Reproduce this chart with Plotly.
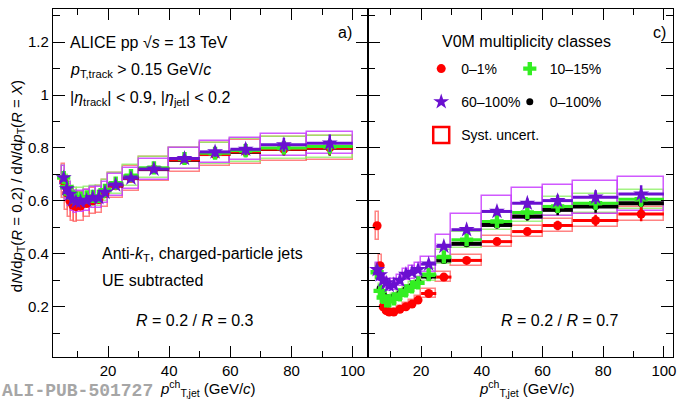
import plotly.graph_objects as go

# ---------------- data ----------------
bin_edges = [5, 6, 7, 8, 9, 10, 12, 14, 16, 18, 20, 25, 30, 40, 50, 60, 70, 85, 100]

# panel a) R = 0.2 / R = 0.3
a_red    = [0.675, 0.63, 0.60, 0.583, 0.578, 0.58, 0.59, 0.60, 0.605, 0.628, 0.657, 0.685, 0.72, 0.755, 0.775, 0.785, 0.795, 0.80]
a_green  = [0.688, 0.652, 0.628, 0.615, 0.61, 0.61, 0.615, 0.617, 0.617, 0.64, 0.667, 0.695, 0.725, 0.76, 0.78, 0.79, 0.80, 0.805]
a_purple = [0.687, 0.645, 0.625, 0.605, 0.597, 0.597, 0.602, 0.612, 0.612, 0.632, 0.66, 0.686, 0.72, 0.76, 0.785, 0.795, 0.812, 0.818]
a_black  = [0.68, 0.64, 0.617, 0.60, 0.595, 0.596, 0.60, 0.607, 0.608, 0.628, 0.658, 0.686, 0.72, 0.755, 0.777, 0.785, 0.796, 0.801]
a_stat   = [0.012, 0.009, 0.008, 0.007, 0.006, 0.006, 0.006, 0.007, 0.008, 0.008, 0.009, 0.01, 0.011, 0.014, 0.017, 0.02, 0.024, 0.03]
a_syst_red    = [0.065, 0.065, 0.062, 0.06, 0.058, 0.055, 0.052, 0.05, 0.05, 0.05, 0.048, 0.046, 0.045, 0.045, 0.045, 0.045, 0.045, 0.045]
a_syst_green  = [0.045, 0.045, 0.042, 0.04, 0.04, 0.038, 0.038, 0.038, 0.038, 0.04, 0.04, 0.04, 0.04, 0.04, 0.04, 0.042, 0.042, 0.042]
a_syst_purple = [0.045, 0.045, 0.045, 0.045, 0.042, 0.04, 0.04, 0.04, 0.04, 0.04, 0.04, 0.04, 0.04, 0.04, 0.042, 0.042, 0.042, 0.042]

# panel c) R = 0.2 / R = 0.7
c_red    = [0.506, 0.355, 0.20, 0.185, 0.18, 0.18, 0.19, 0.20, 0.21, 0.225, 0.25, 0.312, 0.375, 0.446, 0.484, 0.507, 0.526, 0.55]
c_green  = [0.33, 0.26, 0.235, 0.222, 0.222, 0.23, 0.245, 0.26, 0.275, 0.29, 0.321, 0.388, 0.453, 0.522, 0.556, 0.579, 0.591, 0.606]
c_purple = [0.34, 0.32, 0.30, 0.29, 0.28, 0.283, 0.30, 0.322, 0.33, 0.34, 0.361, 0.428, 0.491, 0.56, 0.591, 0.601, 0.614, 0.626]
c_black  = [0.34, 0.27, 0.25, 0.236, 0.232, 0.238, 0.25, 0.265, 0.278, 0.293, 0.314, 0.375, 0.438, 0.509, 0.541, 0.566, 0.579, 0.591]
c_stat   = [0.012, 0.008, 0.006, 0.005, 0.005, 0.005, 0.005, 0.005, 0.006, 0.006, 0.007, 0.008, 0.01, 0.013, 0.016, 0.02, 0.024, 0.03]
c_syst_red    = [0.053, 0.04, 0.015, 0.013, 0.012, 0.012, 0.012, 0.013, 0.014, 0.015, 0.016, 0.018, 0.02, 0.022, 0.022, 0.024, 0.025, 0.025]
c_syst_green  = [0.03, 0.025, 0.02, 0.018, 0.018, 0.018, 0.018, 0.02, 0.02, 0.02, 0.022, 0.026, 0.03, 0.032, 0.034, 0.035, 0.036, 0.036]
c_syst_purple = [0.025, 0.022, 0.02, 0.02, 0.02, 0.02, 0.02, 0.022, 0.024, 0.026, 0.028, 0.044, 0.06, 0.057, 0.058, 0.06, 0.062, 0.064]

class_labels = ["0–1%", "10–15%", "60–100%", "0–100%"]
x_ticks = [20, 40, 60, 80, 100]
y_ticks = [0.2, 0.4, 0.6, 0.8, 1.0, 1.2]

# ---------------- derived ----------------
centers = [(lo + hi) / 2 for lo, hi in zip(bin_edges[:-1], bin_edges[1:])]
widths = [hi - lo for lo, hi in zip(bin_edges[:-1], bin_edges[1:])]
halfw = [w / 2 for w in widths]

RED, GREEN, PURPLE, BLACK = "#ff0000", "#33ee22", "#6a10d0", "#000000"
RED_BOX, GREEN_BOX, PURPLE_BOX = "rgba(255,90,90,0.75)", "rgba(140,240,100,0.8)", "rgba(200,60,255,0.85)"

FONT = "Liberation Sans, Arial, sans-serif"
W, H = 679, 401
ML, MR, MT, MB = 53, 3, 9, 44
PW, PH = W - ML - MR, H - MT - MB
split = (369.5 - ML) / PW


def px(xp):
    return (xp - ML) / PW


def py(yp):
    return (H - MB - yp) / PH


fig = go.Figure()


def add_panel(xa, ya, vals, syst, stat, show_legend):
    red, green, purple, black = vals
    sred, sgreen, spurple = syst
    for v, s, col in ((red, sred, RED_BOX), (green, sgreen, GREEN_BOX), (purple, spurple, PURPLE_BOX)):
        fig.add_trace(go.Bar(
            x=centers, y=[2 * e for e in s], base=[a - e for a, e in zip(v, s)], width=widths,
            marker=dict(color="rgba(0,0,0,0)", line=dict(color=col, width=1.5)),
            xaxis=xa, yaxis=ya, showlegend=False, hoverinfo="skip"))
    specs = [
        (black, BLACK, "circle", 7, 4.0, class_labels[3], "legend2", 1.0, 2),
        (red, RED, "circle", 9, 3.0, class_labels[0], "legend", 0.9, 1),
        (green, GREEN, "cross", 11, 3.0, class_labels[1], "legend2", 1.0, 1),
        (purple, PURPLE, "star", 12, 3.0, class_labels[2], "legend", 1.1, 2),
    ]
    for v, col, sym, size, thick, name, leg, sf, rank in specs:
        fig.add_trace(go.Scatter(
            x=centers, y=v, mode="markers", name=name,
            marker=dict(symbol=sym, size=size, color=col, line=dict(width=0)),
            error_x=dict(type="data", array=halfw, thickness=thick, width=0, color=col),
            error_y=dict(type="data", array=[e * sf for e in stat], thickness=2.5, width=0, color=col),
            xaxis=xa, yaxis=ya, showlegend=show_legend, legend=leg, legendgroup=name,
            legendrank=rank))


add_panel("x", "y", (a_red, a_green, a_purple, a_black),
          (a_syst_red, a_syst_green, a_syst_purple), a_stat, False)
add_panel("x2", "y2", (c_red, c_green, c_purple, c_black),
          (c_syst_red, c_syst_green, c_syst_purple), c_stat, True)

# legend entry for systematic boxes
fig.add_trace(go.Scatter(
    x=[None], y=[None], mode="markers", name="Syst. uncert.",
    marker=dict(symbol="square-open", size=16, color=RED, line=dict(width=2.5, color=RED)),
    xaxis="x2", yaxis="y2", legend="legend", legendgroup="syst", legendrank=3))

axis_common = dict(
    showline=True, linecolor="black", linewidth=1.3, mirror="ticks",
    ticks="inside", tickcolor="black", tickwidth=1.2, showgrid=False, zeroline=False,
    tickfont=dict(family=FONT, size=15, color="black"), ticklabeloverflow="allow",
)

fig.update_layout(
    width=W, height=H, margin=dict(l=ML, r=MR, t=MT, b=MB),
    paper_bgcolor="white", plot_bgcolor="white", barmode="overlay", bargap=0,
    font=dict(family=FONT, size=15, color="black"),
    xaxis=dict(domain=[0, split], range=[2, 105], tickvals=x_ticks, ticklen=11,
               minor=dict(dtick=10, tick0=0, ticklen=6, ticks="inside", tickcolor="black"),
               anchor="y", **axis_common),
    xaxis2=dict(domain=[split, 1], range=[2.5, 103], tickvals=x_ticks, ticklen=11,
                minor=dict(dtick=10, tick0=0, ticklen=6, ticks="inside", tickcolor="black"),
                anchor="y2", **axis_common),
    yaxis=dict(range=[0.01, 1.325], tickvals=y_ticks, ticktext=[f"{t:g}" for t in y_ticks], ticklen=12,
               minor=dict(dtick=0.1, tick0=0, ticklen=7, ticks="inside", tickcolor="black"),
               anchor="x", **axis_common),
    yaxis2=dict(range=[0.01, 1.325], tickvals=y_ticks, showticklabels=False, ticklen=12,
                minor=dict(dtick=0.1, tick0=0, ticklen=7, ticks="inside", tickcolor="black"),
                anchor="x2", matches="y", **axis_common),
    legend=dict(x=px(423), y=py(53), xanchor="left", yanchor="top", bgcolor="rgba(0,0,0,0)",
                font=dict(family=FONT, size=14), tracegroupgap=12, itemsizing="trace"),
    legend2=dict(x=px(512), y=py(53), xanchor="left", yanchor="top", bgcolor="rgba(0,0,0,0)",
                 font=dict(family=FONT, size=14), tracegroupgap=12, itemsizing="trace"),
)

ann = [
    dict(x=px(68), y=py(42), text="ALICE pp √<i>s</i> = 13 TeV", xanchor="left", size=16),
    dict(x=px(68), y=py(70), text="<i>p</i><sub>T,track</sub> > 0.15 GeV/<i>c</i>", xanchor="left", size=16),
    dict(x=px(68), y=py(98), text="|<i>η</i><sub>track</sub>| < 0.9, |<i>η</i><sub>jet</sub>| < 0.2", xanchor="left", size=16),
    dict(x=px(346), y=py(32), text="a)", xanchor="center", size=16),
    dict(x=px(662), y=py(32), text="c)", xanchor="center", size=16),
    dict(x=px(442), y=py(41), text="V0M multiplicity classes", xanchor="left", size=16),
    dict(x=px(100), y=py(254), text="Anti-<i>k</i><sub>T</sub>, charged-particle jets", xanchor="left", size=16),
    dict(x=px(100), y=py(280), text="UE subtracted", xanchor="left", size=16),
    dict(x=px(196), y=py(320), text="<i>R</i> = 0.2 / <i>R</i> = 0.3", xanchor="center", size=16),
    dict(x=px(562), y=py(320), text="<i>R</i> = 0.2 / <i>R</i> = 0.7", xanchor="center", size=16),
    dict(x=px(209), y=py(388), text="<i>p</i><sup>ch</sup><sub>T,jet</sub> (GeV/<i>c</i>)", xanchor="center", size=15),
    dict(x=px(529), y=py(388), text="<i>p</i><sup>ch</sup><sub>T,jet</sub> (GeV/<i>c</i>)", xanchor="center", size=15),
]
for a in ann:
    fig.add_annotation(x=a["x"], y=a["y"], xref="paper", yref="paper", text=a["text"],
                       xanchor=a["xanchor"], yanchor="middle", showarrow=False,
                       font=dict(family=FONT, size=a["size"], color="black"))

fig.add_annotation(x=px(17), y=py(186), xref="paper", yref="paper", textangle=-90,
                   text="d<i>N</i>/d<i>p</i><sub>T</sub>(<i>R</i> = 0.2) / d<i>N</i>/d<i>p</i><sub>T</sub>(<i>R</i> = <i>X</i>)",
                   showarrow=False, xanchor="center", yanchor="middle",
                   font=dict(family=FONT, size=15, color="black"))

fig.add_annotation(x=px(0), y=py(391), xref="paper", yref="paper", text="<b>ALI-PUB-501727</b>",
                   showarrow=False, xanchor="left", yanchor="middle",
                   font=dict(family="Liberation Mono, Courier New, monospace", size=18, color="#a6a6a6"))

fig.write_html("out.html")
